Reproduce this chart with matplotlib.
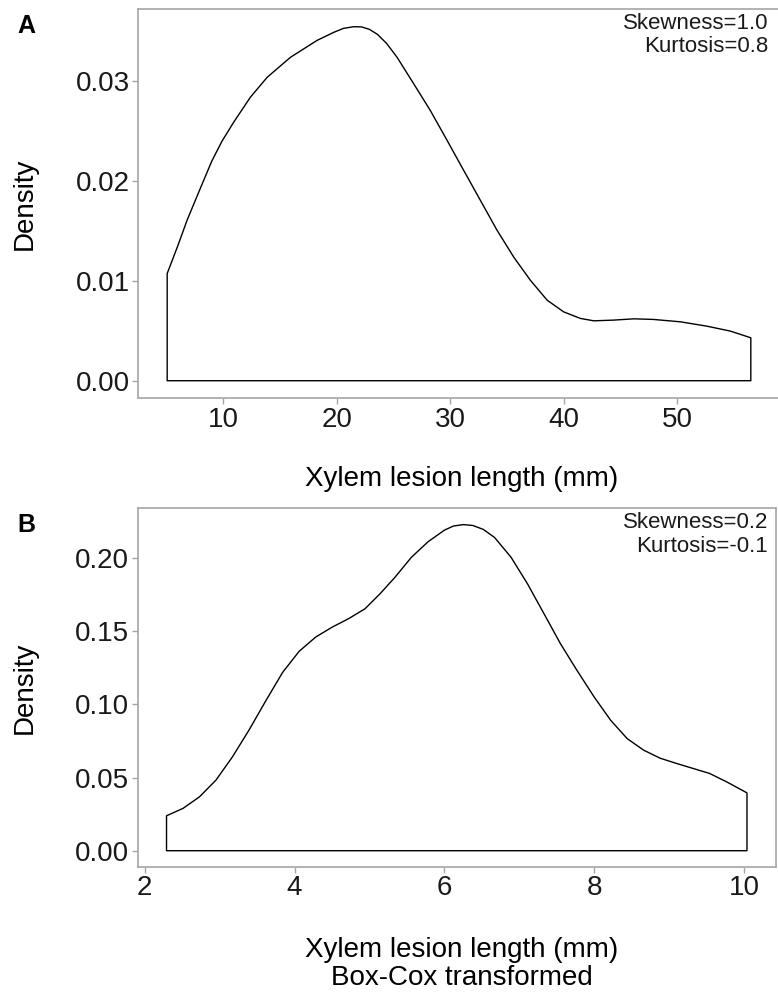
import numpy as np
import matplotlib
matplotlib.use("Agg")
import matplotlib.pyplot as plt

plt.rcParams['font.family'] = ['Liberation Sans', 'DejaVu Sans']

# Panel A: density of raw xylem lesion length
raw_x = [5.07, 6.0, 6.83, 8.0, 9.0, 9.9, 10.93, 12.4, 13.88, 15.93, 18.28, 19.74,
         20.6, 21.5, 22.2, 22.9, 23.6, 24.4, 25.33, 26.8, 28.26, 29.74, 31.2,
         32.67, 34.14, 35.6, 37.07, 38.55, 40.0, 41.48, 42.65, 44.4, 46.2, 47.9,
         50.3, 52.6, 54.7, 56.5]
raw_dens = [0.01074, 0.0135, 0.0161, 0.0193, 0.0220, 0.0240, 0.0259, 0.0284,
            0.0304, 0.0324, 0.0341, 0.0349, 0.0353, 0.03547, 0.03545, 0.0352,
            0.0347, 0.0338, 0.0324, 0.02974, 0.02707, 0.02407, 0.02107, 0.01807,
            0.01507, 0.0124, 0.01007, 0.00807, 0.0069, 0.00624, 0.0060, 0.00607,
            0.0062, 0.00614, 0.0059, 0.00547, 0.00497, 0.0043]

# Panel B: density after Box-Cox transform
bc_x = [2.29, 2.51, 2.73, 2.95, 3.17, 3.39, 3.62, 3.84, 4.06, 4.28, 4.5, 4.72,
        4.94, 5.14, 5.34, 5.56, 5.78, 6.0, 6.12, 6.25, 6.38, 6.52, 6.67, 6.89,
        7.11, 7.33, 7.55, 7.77, 8.0, 8.22, 8.44, 8.66, 8.88, 9.1, 9.32, 9.54,
        9.77, 10.04]
bc_dens = [0.02386, 0.0289, 0.0368, 0.0482, 0.0641, 0.0823, 0.1028, 0.1218,
           0.1362, 0.1459, 0.1527, 0.1585, 0.1653, 0.1755, 0.1868, 0.2005,
           0.2110, 0.2190, 0.2218, 0.2228, 0.2222, 0.2195, 0.2140, 0.2005,
           0.1823, 0.1619, 0.1414, 0.1232, 0.105, 0.0891, 0.0766, 0.0687,
           0.0632, 0.0596, 0.0562, 0.0528, 0.047, 0.0395]

panels = [
    dict(x=raw_x, y=raw_dens, label='A', stats=('Skewness=1.0', 'Kurtosis=0.8'),
         xticks=[10, 20, 30, 40, 50], yticks=[0.0, 0.01, 0.02, 0.03],
         xlabel='Xylem lesion length (mm)',
         rect=[138 / 778, 1 - 398.4 / 992, 642 / 778, 389.4 / 992]),
    dict(x=bc_x, y=bc_dens, label='B', stats=('Skewness=0.2', 'Kurtosis=-0.1'),
         xticks=[2, 4, 6, 8, 10], yticks=[0.0, 0.05, 0.10, 0.15, 0.20],
         xlabel='Xylem lesion length (mm)\nBox-Cox transformed',
         rect=[137.5 / 778, 1 - 867 / 992, 638.5 / 778, 358.7 / 992]),
]

fig = plt.figure(figsize=(7.78, 9.92), dpi=100)
frame_col = '#a6a6a6'

for p in panels:
    ax = fig.add_axes(p['rect'])
    x = np.asarray(p['x'])
    y = np.asarray(p['y'])
    # closed density polygon like geom_density
    px = np.concatenate([[x[0]], x, [x[-1], x[0]]])
    py = np.concatenate([[0], y, [0, 0]])
    ax.fill(px, py, facecolor='white', edgecolor='black', linewidth=1.0,
            joinstyle='round')
    ax.margins(x=0.05, y=0.05)

    ax.set_xticks(p['xticks'])
    ax.set_yticks(p['yticks'])
    ax.set_yticklabels(['%.2f' % v for v in p['yticks']])
    ax.tick_params(labelsize=20, length=4, width=1, color=frame_col,
                   pad=2, labelcolor='#1a1a1a')
    for s in ax.spines.values():
        s.set_color(frame_col)
        s.set_linewidth(1.2)

    # stats text in the top right corner
    fig.text(768 / 778, p['rect'][1] + p['rect'][3] - 4 / 992,
             p['stats'][0] + '\n' + p['stats'][1], ha='right', va='top',
             fontsize=16, linespacing=1.15, color='#1a1a1a')

    # panel letter
    fig.text(17 / 778, p['rect'][1] + p['rect'][3] - 5 / 992, p['label'],
             fontsize=18, fontweight='bold', ha='left', va='top')

    # y title
    fig.text(25 / 778, p['rect'][1] + p['rect'][3] / 2, 'Density', rotation=90,
             ha='center', va='center', fontsize=20)

cx = 462 / 778
fig.text(cx, 1 - 479 / 992, panels[0]['xlabel'], ha='center', va='center', fontsize=20)
fig.text(cx, 1 - 964 / 992, panels[1]['xlabel'], ha='center', va='center',
         fontsize=20, linespacing=1.1)

fig.savefig('out.png', dpi=100)
